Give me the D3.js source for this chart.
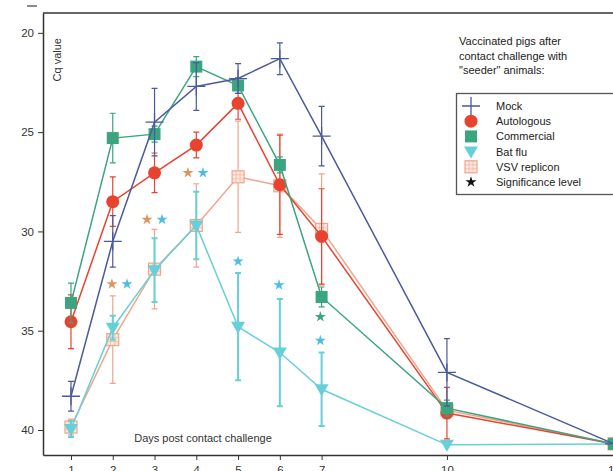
<!DOCTYPE html>
<html>
<head>
<meta charset="utf-8">
<script src="https://cdn.jsdelivr.net/npm/d3@7"></script>
<style>
  body { margin: 0; background: #fff; }
  svg { display: block; font-family: "Liberation Sans", Arial, sans-serif; }
</style>
</head>
<body>
<div id="chart"></div>
<script>
// days post contact challenge
const days = [1, 2, 3, 4, 5, 6, 7, 10, 14];
const yTicks = [20, 25, 30, 35, 40];

// mean Cq and error per group
const mockCq = [38.3, 30.5, 24.5, 22.7, 22.3, 21.3, 25.2, 37.1, 40.7];
const mockErr = [0.75, 1.3, 1.7, 1.2, 0.75, 0.8, 1.5, 1.7, 0];
const autoCq = [34.55, 28.5, 27.05, 25.65, 23.55, 27.65, 30.25, 39.15, 40.7];
const autoErr = [1.35, 1.25, 1.0, 0.65, 0.8, 2.5, 2.4, 1.3, 0];
const commCq = [33.6, 25.3, 25.1, 21.7, 22.65, 26.65, 33.3, 38.9, 40.7];
const commErr = [1.0, 1.25, 0.4, 0.5, 0.4, 0.4, 0.5, 0.4, 0];
const batCq = [39.95, 34.85, 31.95, 29.7, 34.8, 36.1, 37.95, 40.75, 40.7];
const batErr = [0.4, 0.6, 1.6, 1.7, 2.7, 2.7, 1.85, 0, 0];
const vsvCq = [39.85, 35.45, 31.9, 29.7, 27.25, 27.7, 29.9, 39.0, 40.7];
const vsvErr = [0.4, 2.2, 2.0, 2.1, 2.8, 2.6, 2.8, 0.3, 0];

// significance stars (day position, Cq, group)
const starDay = [1.98, 2.34, 2.82, 3.18, 3.80, 4.16, 5.0, 5.98, 6.97, 6.97];
const starCq = [32.65, 32.65, 29.4, 29.4, 27.05, 27.05, 31.5, 32.7, 34.3, 35.5];
const starGroup = ["Autologous", "Bat flu", "Autologous", "Bat flu", "Autologous", "Bat flu",
                   "Bat flu", "Bat flu", "Commercial", "Bat flu"];

const legendTitle = ["Vaccinated pigs after", "contact challenge with", "\"seeder\" animals:"];

const colors = {
    "Mock": "#4b5a9b",
    "Autologous": "#e8432e",
    "Commercial": "#3aa57e",
    "Bat flu": "#66d0d8",
    "VSV replicon": "#f0a58c"
};
const starColors = { "Autologous": "#d9975e", "Bat flu": "#4fbde0", "Commercial": "#3aa57e" };

const series = [
    { name: "VSV replicon", cq: vsvCq, err: vsvErr, shape: "hatch" },
    { name: "Bat flu", cq: batCq, err: batErr, shape: "tri" },
    { name: "Autologous", cq: autoCq, err: autoErr, shape: "circle" },
    { name: "Commercial", cq: commCq, err: commErr, shape: "square" },
    { name: "Mock", cq: mockCq, err: mockErr, shape: "plus" }
];
const legendOrder = ["Mock", "Autologous", "Commercial", "Bat flu", "VSV replicon"];

const W = 613, H = 471;
const svg = d3.select("#chart").append("svg").attr("width", W).attr("height", H);

const x = d3.scaleLinear().domain([0.33, 14.67]).range([43, 642]);
const y = d3.scaleLinear().domain([19, 41.26]).range([13, 455]);

// stray mark above the axis
svg.append("line").attr("x1", 27).attr("x2", 37).attr("y1", 6).attr("y2", 6)
    .attr("stroke", "#666").attr("stroke-width", 1.5);

// frame
svg.append("line").attr("x1", 43).attr("x2", W).attr("y1", 13).attr("y2", 13)
    .attr("stroke", "#333").attr("stroke-width", 1.5);

const xAxis = svg.append("g").attr("transform", "translate(0,455)")
    .call(d3.axisBottom(x).tickValues(days).tickSize(5).tickSizeOuter(0).tickPadding(6));
const yAxis = svg.append("g").attr("transform", "translate(43,0)")
    .call(d3.axisLeft(y).tickValues(yTicks).tickSize(5).tickSizeOuter(0).tickPadding(4));
[xAxis, yAxis].forEach(a => {
    a.select(".domain").attr("stroke", "#333").attr("stroke-width", 1.5);
    a.selectAll(".tick line").attr("stroke", "#333");
    a.selectAll("text").attr("fill", "#333").style("font-size", "11.5px");
});

svg.append("text").attr("transform", "translate(61,38) rotate(-90)")
    .attr("text-anchor", "end").style("font-size", "11px").attr("fill", "#333")
    .text("Cq value");
svg.append("text").attr("x", 203).attr("y", 442).attr("text-anchor", "middle")
    .style("font-size", "11px").attr("fill", "#333").text("Days post contact challenge");

function drawMarker(g, shape, color, cx, cy) {
    if (shape === "plus") {
        g.append("path").attr("d", `M${cx - 9},${cy}H${cx + 9}M${cx},${cy - 9}V${cy + 9}`)
            .attr("stroke", color).attr("stroke-width", 1.3).attr("fill", "none");
    } else if (shape === "circle") {
        g.append("circle").attr("cx", cx).attr("cy", cy).attr("r", 6.5).attr("fill", color);
    } else if (shape === "square") {
        g.append("rect").attr("x", cx - 6).attr("y", cy - 6).attr("width", 12).attr("height", 12)
            .attr("fill", color);
    } else if (shape === "tri") {
        g.append("path").attr("d", `M${cx - 7},${cy - 5}L${cx + 7},${cy - 5}L${cx},${cy + 7}Z`)
            .attr("fill", color);
    } else if (shape === "hatch") {
        g.append("rect").attr("x", cx - 6).attr("y", cy - 6).attr("width", 12).attr("height", 12)
            .attr("fill", "#fde8e0").attr("stroke", color).attr("stroke-width", 1.2);
        g.append("path")
            .attr("d", `M${cx - 6},${cy - 2}H${cx + 6}M${cx - 6},${cy + 2}H${cx + 6}M${cx - 2},${cy - 6}V${cy + 6}M${cx + 2},${cy - 6}V${cy + 6}`)
            .attr("stroke", color).attr("stroke-width", 0.7).attr("opacity", 0.8);
    }
}

const line = d3.line().x(d => x(d.day)).y(d => y(d.cq));

for (const s of series) {
    const color = colors[s.name];
    const pts = days.map((d, i) => ({ day: d, cq: s.cq[i], err: s.err[i] }));
    const g = svg.append("g");
    const bw = s.name === "Bat flu" ? 2 : 1.2;
    pts.filter(p => p.err > 0).forEach(p => {
        const px = x(p.day), y0 = y(p.cq - p.err), y1 = y(p.cq + p.err);
        g.append("path")
            .attr("d", `M${px},${y0}V${y1}M${px - 3},${y0}H${px + 3}M${px - 3},${y1}H${px + 3}`)
            .attr("stroke", color).attr("stroke-width", bw).attr("fill", "none");
    });
    g.append("path").datum(pts).attr("d", line).attr("fill", "none")
        .attr("stroke", color).attr("stroke-width", 1.5);
    pts.forEach(p => drawMarker(g, s.shape, color, x(p.day), y(p.cq)));
}

// significance stars
const star = d3.symbol().type(d3.symbolStar).size(38);
starDay.forEach((d, i) => {
    svg.append("path").attr("d", star())
        .attr("transform", `translate(${x(d)},${y(starCq[i])})`)
        .attr("fill", starColors[starGroup[i]]);
});

// legend
const lt = svg.append("g");
legendTitle.forEach((t, i) => {
    lt.append("text").attr("x", 459).attr("y", 45 + i * 14.5)
        .style("font-size", "11px").attr("fill", "#222").text(t);
});
lt.append("rect").attr("x", 456.5).attr("y", 93.5).attr("width", 200).attr("height", 101)
    .attr("fill", "#fff").attr("stroke", "#555").attr("stroke-width", 1.3);
legendOrder.forEach((name, i) => {
    const s = series.find(d => d.name === name);
    const cy = 106 + i * 15.2;
    drawMarker(lt, s.shape, colors[name], 471, cy);
    lt.append("text").attr("x", 496).attr("y", cy + 4).style("font-size", "11px")
        .attr("fill", "#222").text(name);
});
lt.append("path").attr("d", star()).attr("transform", `translate(471,${106 + 5 * 15.2})`)
    .attr("fill", "#111");
lt.append("text").attr("x", 496).attr("y", 106 + 5 * 15.2 + 4).style("font-size", "11px")
    .attr("fill", "#222").text("Significance level");
</script>
</body>
</html>
